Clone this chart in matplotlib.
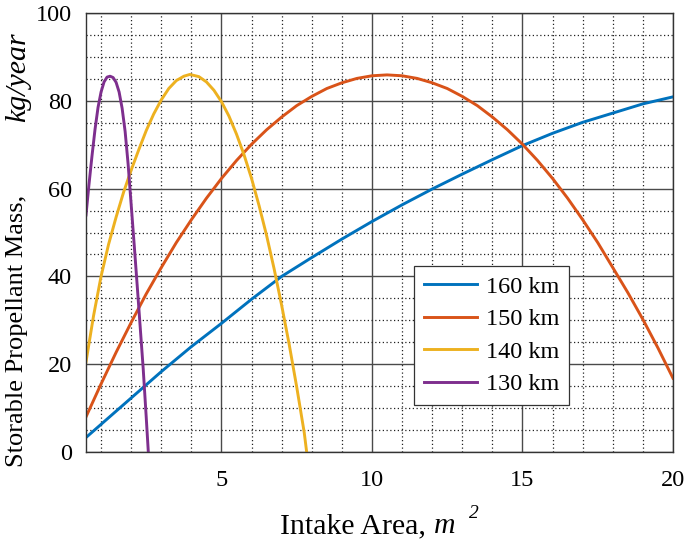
import matplotlib
matplotlib.use("Agg")
import matplotlib.pyplot as plt
from matplotlib.ticker import MultipleLocator

plt.rcParams['font.family'] = ['Liberation Serif', 'DejaVu Serif']

# ---- data ----
x_160 = [0.5, 1, 1.5, 2, 3, 4, 5, 6, 7, 8, 9, 10, 11, 12, 13, 14, 15, 16, 17, 18, 19, 20]
y_160 = [3.3, 6.3, 9.3, 12.3, 18.3, 24.0, 29.3, 34.8, 40.0, 44.3, 48.5, 52.5, 56.3, 59.9,
         63.3, 66.6, 69.8, 72.6, 75.1, 77.2, 79.3, 80.9]

x_150 = [0.5, 1, 1.5, 2, 2.5, 3, 3.5, 4, 4.5, 5, 5.5, 6, 6.5, 7, 7.5, 8, 8.5, 9, 9.5,
         10, 10.5, 11, 11.5, 12, 12.5, 13, 13.5, 14, 14.5, 15, 15.5, 16, 16.5, 17,
         17.5, 18, 18.5, 19, 19.5, 20]
y_150 = [8.0, 15.5, 22.7, 29.5, 36.0, 42.0, 47.7, 52.9, 57.8, 62.3, 66.4, 70.1, 73.4,
         76.3, 78.9, 81.0, 82.8, 84.1, 85.1, 85.7, 85.9, 85.7, 85.1, 84.1, 82.8, 81.0,
         78.9, 76.3, 73.4, 70.1, 66.4, 62.3, 57.8, 52.9, 47.7, 42.0, 36.3, 30.2, 23.7,
         16.8]

x_140 = [0.5, 0.75, 1.0, 1.25, 1.5, 1.75, 2.0, 2.25, 2.5, 2.75, 3.0, 3.25, 3.5, 3.75,
         3.95, 4.25, 4.5, 4.75, 5.0, 5.25, 5.5, 5.75, 6.0, 6.25, 6.5, 6.75, 7.0, 7.25,
         7.5, 7.75, 7.83]
y_140 = [20.5, 31.0, 40.0, 47.3, 53.5, 59.2, 64.2, 68.8, 73.2, 77.0, 80.2, 82.8, 84.6,
         85.6, 86.0, 85.5, 84.3, 82.4, 79.8, 76.5, 72.4, 67.7, 62.3, 56.1, 49.3, 41.7,
         33.4, 24.5, 14.8, 4.4, 0.0]

x_130 = [0.5, 0.6, 0.7, 0.8, 0.9, 1.0, 1.1, 1.2, 1.3, 1.4, 1.5, 1.6, 1.7, 1.8, 1.9,
         1.96, 2.0, 2.1, 2.2, 2.3, 2.4, 2.5, 2.57]
y_130 = [54.0, 61.0, 67.5, 73.5, 78.5, 82.0, 84.3, 85.4, 85.6, 85.3, 84.2, 82.0, 78.3,
         73.0, 65.5, 60.0, 56.4, 47.3, 38.0, 28.5, 19.0, 8.0, 0.0]

labels = ['160 km', '150 km', '140 km', '130 km']
colors = ['#0072BD', '#D95319', '#EDB120', '#7E2F8E']
x_ticks = [5, 10, 15, 20]
y_ticks = [0, 20, 40, 60, 80, 100]

W, H = 685, 541
fig = plt.figure(figsize=(W / 100, H / 100), dpi=100)
ax = fig.add_axes([86 / W, 1 - 452 / H, 587 / W, 439 / H])

series = [(x_160, y_160), (x_150, y_150), (x_140, y_140), (x_130, y_130)]
for (xs, ys), lab, c in zip(series, labels, colors):
    ax.plot(xs, ys, color=c, lw=2.1, label=lab, solid_joinstyle='round')

ax.set_xlim(0.5, 20)
ax.set_ylim(0, 100)
ax.set_xticks(x_ticks)
ax.set_yticks(y_ticks)
ax.xaxis.set_minor_locator(MultipleLocator(1))
ax.yaxis.set_minor_locator(MultipleLocator(5))
ax.grid(which='major', color='#4a4a4a', lw=1.0, ls='-')
ax.grid(which='minor', color='#222222', lw=0.9, ls=(0, (1, 2)))
ax.set_axisbelow(True)
ax.tick_params(which='both', length=0, labelsize=17.5, colors='black')
ax.tick_params(axis='x', pad=13)
ax.tick_params(axis='y', pad=10)
for s in ax.spines.values():
    s.set_color('#333333')
    s.set_linewidth(1.0)

# axis labels as separate text pieces to match the reference placement
fig.text(280 / W, (H - 533) / H, 'Intake Area,', fontsize=21.5, ha='left', va='baseline')
fig.text(434 / W, (H - 533) / H, 'm', fontsize=21.5, style='italic', ha='left', va='baseline')
fig.text(469 / W, (H - 518) / H, '2', fontsize=14, style='italic', ha='left', va='baseline')

fig.text(23 / W, (H - 467) / H, 'Storable Propellant Mass,', fontsize=19, rotation=90,
         rotation_mode='anchor', ha='left', va='baseline')
fig.text(25 / W, (H - 122) / H, 'kg/year', fontsize=21.5, style='italic', rotation=90,
         rotation_mode='anchor', ha='left', va='baseline')

leg = ax.legend(loc='upper left', bbox_to_anchor=(328 / 587, (452 - 266) / 439),
                fontsize=17.5, frameon=True, fancybox=False, framealpha=1,
                edgecolor='#333333', handlelength=2.2, handletextpad=0.35,
                borderpad=0.4, labelspacing=0.43, borderaxespad=0)
leg.get_frame().set_linewidth(0.9)
for h in leg.get_lines():
    h.set_linewidth(2.1)

fig.savefig('out.png', dpi=100)
